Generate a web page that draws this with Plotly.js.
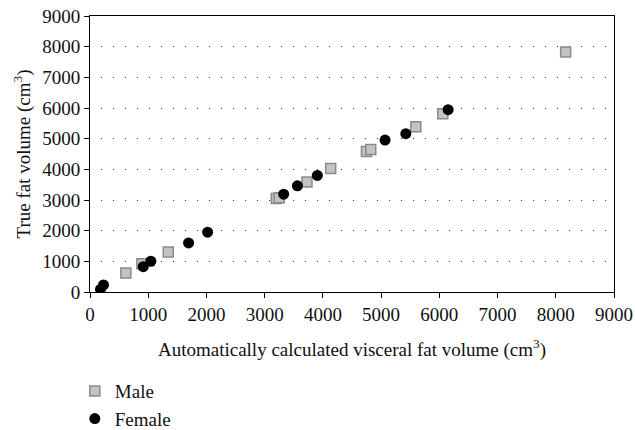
<!DOCTYPE html>
<html>
<head>
<meta charset="utf-8">
<script src="https://cdn.plot.ly/plotly-3.0.1.min.js"></script>
<style>
html,body{margin:0;padding:0;background:#fff;}
#chart{width:635px;height:430px;}
</style>
</head>
<body>
<div id="chart"></div>
<script>
// Male (grey squares)
const maleX = [616, 891, 1344, 3200, 3250, 3727, 4134, 4748, 4822, 5596, 6060, 8169];
const maleY = [620, 925, 1307, 3050, 3075, 3583, 4029, 4584, 4650, 5390, 5815, 7830];
// Female (black circles)
const femaleX = [180, 232, 914, 1045, 1693, 2020, 3326, 3562, 3905, 5068, 5424, 6151];
const femaleY = [88, 229, 827, 1003, 1601, 1950, 3191, 3463, 3800, 4955, 5161, 5946];

const tickVals = [0, 1000, 2000, 3000, 4000, 5000, 6000, 7000, 8000, 9000];
const tickText = ['0', '1000', '2000', '3000', '4000', '5000', '6000', '7000', '8000', '9000'];

const font = {family: 'Liberation Serif, serif', size: 19, color: '#111'};

const traces = [
  {
    x: maleX, y: maleY, name: 'Male', type: 'scatter', mode: 'markers',
    marker: {symbol: 'square', size: 10, color: '#c3c3c3', line: {color: '#8a8a8a', width: 1.5}}
  },
  {
    x: femaleX, y: femaleY, name: 'Female', type: 'scatter', mode: 'markers',
    marker: {symbol: 'circle', size: 11, color: '#000000', line: {width: 0}}
  }
];

const layout = {
  width: 635, height: 430,
  margin: {l: 90, r: 21, t: 16, b: 138, autoexpand: false},
  paper_bgcolor: '#fff', plot_bgcolor: '#fff',
  font: font,
  showlegend: true,
  legend: {
    x: -0.029, y: -0.29, xanchor: 'left', yanchor: 'top',
    orientation: 'v', font: font, bgcolor: 'rgba(0,0,0,0)', tracegroupgap: 0
  },
  xaxis: {
    range: [0, 9000], tickvals: tickVals, ticktext: tickText,
    showgrid: false, zeroline: false,
    showline: true, mirror: true, linecolor: '#000', linewidth: 1,
    ticks: 'outside', ticklen: 5, tickcolor: '#000', tickwidth: 1,
    tickfont: font,
    title: {text: 'Automatically calculated visceral fat volume (cm<sup>3</sup>)', font: font, standoff: 18}
  },
  yaxis: {
    range: [0, 9000], tickvals: tickVals, ticktext: tickText,
    showgrid: true, gridcolor: '#333', gridwidth: 1, griddash: '0px,11px,1px,0px',
    zeroline: false,
    showline: true, mirror: true, linecolor: '#000', linewidth: 1,
    ticks: 'outside', ticklen: 5, tickcolor: '#000', tickwidth: 1,
    tickfont: font,
    title: {text: 'True fat volume (cm<sup>3</sup>)', font: font, standoff: 6}
  }
};

Plotly.newPlot('chart', traces, layout, {staticPlot: true, displayModeBar: false});
</script>
</body>
</html>
